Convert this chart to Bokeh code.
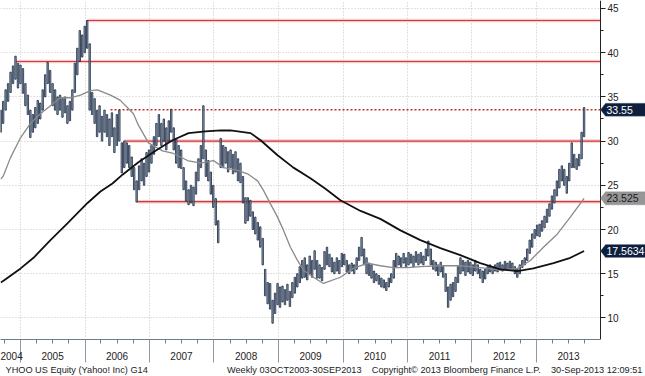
import pandas as pd
from bokeh.plotting import figure
from bokeh.models import (Range1d, FixedTicker, Label, PolyAnnotation, BoxAnnotation,
                          ColumnDataSource, Title)
from bokeh.embed import file_html
from bokeh.resources import INLINE

# ---------------- data ----------------
bar_start = "2004-09-10"   # bi-weekly bars
bar_lows = [
    31.0, 32.0, 33.5, 34.5, 35.5, 36.5, 37.0, 36.0, 36.5, 35.4,
    34.0, 33.0, 30.4, 31.0, 31.5, 32.0, 32.5, 33.5, 35.0, 36.5,
    35.5, 34.0, 33.5, 33.0, 33.5, 32.7, 33.2, 32.0, 32.3, 33.5,
    35.5, 37.5, 39.0, 39.5, 40.0, 40.5, 33.5, 33.0, 32.0, 30.5,
    31.0, 30.0, 31.0, 30.5, 29.5, 30.5, 28.7, 29.5, 30.0, 26.4,
    27.0, 27.5, 27.0, 26.0, 24.5, 23.1, 24.5, 25.5, 25.0, 26.0,
    26.5, 27.5, 28.5, 29.5, 30.5, 29.5, 30.0, 29.0, 30.0, 31.0,
    29.0, 27.5, 27.0, 26.9, 24.5, 23.2, 22.8, 23.0, 22.7, 24.0,
    25.5, 27.0, 28.0, 26.0, 25.5, 24.0, 22.5, 20.5, 18.5, 27.0,
    27.0, 27.5, 26.5, 27.0, 26.3, 26.5, 25.5, 25.3, 23.0, 20.7,
    21.0, 21.5, 20.0, 19.5, 18.8, 18.0, 16.0, 12.5, 11.6, 11.0,
    9.4, 10.5, 11.5, 11.2, 11.8, 11.5, 12.0, 11.3, 12.3, 12.8,
    13.5, 14.0, 14.5, 14.6, 14.3, 15.0, 14.6, 15.5, 14.5, 14.5,
    14.2, 15.5, 16.0, 15.8, 15.2, 15.0, 15.3, 15.0, 15.8, 16.0,
    15.2, 15.0, 15.3, 15.0, 15.5, 16.5, 17.0, 16.0, 15.0, 14.8,
    14.5, 14.0, 14.2, 13.8, 13.5, 13.4, 13.1, 13.5, 14.0, 14.5,
    15.7, 16.0, 15.8, 16.2, 15.7, 16.0, 16.2, 15.8, 16.3, 16.0,
    16.2, 16.0, 16.5, 17.0, 16.0, 15.5, 15.3, 14.8, 15.2, 14.6,
    13.0, 11.2, 12.0, 12.4, 13.0, 14.0, 15.0, 15.3, 14.8, 15.2,
    15.0, 14.8, 15.3, 15.0, 14.5, 14.0, 14.4, 15.0, 15.2, 15.0,
    15.3, 15.2, 15.5, 15.3, 15.5, 15.4, 15.6, 15.4, 15.0, 14.6,
    15.0, 15.7, 16.0, 16.5, 17.3, 18.0, 19.0, 19.3, 19.2, 19.8,
    20.2, 20.8, 21.5, 22.3, 23.0, 23.8, 24.7, 25.5, 25.0, 24.1,
    25.5, 27.0, 27.0, 26.8, 27.2, 28.0, 30.5,
]
bar_highs = [
    33.5, 34.5, 35.8, 36.5, 37.8, 38.5, 39.6, 38.8, 38.6, 38.2,
    36.5, 35.2, 33.5, 33.0, 33.8, 34.6, 34.3, 35.8, 37.5, 38.9,
    38.0, 36.5, 35.8, 35.0, 35.2, 34.8, 35.0, 34.0, 34.5, 35.8,
    38.8, 40.5, 42.5, 42.0, 43.0, 43.64, 41.0, 35.5, 34.8, 33.5,
    34.0, 32.8, 33.5, 33.0, 32.5, 33.2, 31.5, 33.0, 33.5, 29.8,
    30.0, 29.8, 29.5, 28.2, 27.0, 25.5, 27.2, 28.0, 27.5, 28.7,
    29.0, 29.5, 30.5, 32.0, 33.0, 32.0, 32.5, 31.5, 32.3, 33.6,
    31.5, 30.3, 29.5, 29.0, 27.0, 25.5, 24.5, 25.0, 24.8, 26.5,
    28.0, 29.5, 34.0, 29.0, 27.8, 26.5, 25.0, 23.5, 21.0, 30.3,
    29.5, 29.3, 28.8, 29.0, 28.5, 28.8, 28.0, 27.5, 26.0, 23.6,
    23.6, 23.3, 22.0, 21.4, 20.8, 20.3, 19.0, 15.5, 14.0, 13.9,
    12.0, 12.8, 13.9, 13.5, 13.6, 13.2, 13.8, 13.0, 14.0, 14.6,
    15.0, 15.8, 16.5, 16.8, 16.0, 17.0, 16.5, 17.6, 16.5, 16.0,
    15.7, 17.5, 18.0, 17.2, 16.8, 16.3, 16.8, 16.5, 17.3, 17.2,
    16.5, 16.0, 16.2, 16.0, 16.8, 18.0, 19.1, 17.8, 16.8, 16.2,
    16.0, 15.3, 15.0, 14.8, 14.5, 14.3, 14.0, 14.5, 15.0, 16.5,
    17.3, 17.0, 16.8, 17.3, 16.8, 17.4, 17.2, 17.0, 17.5, 17.2,
    17.4, 17.0, 17.8, 18.7, 17.8, 16.5, 16.3, 16.0, 16.3, 15.8,
    15.0, 13.5, 13.8, 14.0, 14.6, 15.8, 16.8, 16.5, 16.3, 16.5,
    16.3, 16.0, 16.5, 16.0, 15.5, 15.3, 15.5, 15.8, 16.0, 15.8,
    16.0, 16.2, 16.3, 16.0, 16.4, 16.2, 16.4, 16.2, 15.8, 15.5,
    16.0, 16.5, 16.8, 17.8, 18.8, 19.5, 20.0, 20.5, 20.6, 21.0,
    21.5, 22.3, 22.9, 23.8, 24.5, 25.5, 26.8, 27.2, 26.8, 26.0,
    27.5, 29.8, 28.5, 28.0, 28.5, 31.0, 33.8,
]

gray_ma_dates = [
    "2004-09-10", "2004-09-26", "2004-11-04", "2005-01-01", "2005-02-26", "2005-04-23",
    "2005-06-19", "2005-08-14", "2005-10-10", "2005-12-06", "2006-02-01", "2006-03-12",
    "2006-05-25", "2006-07-20", "2006-10-02", "2006-10-30", "2006-12-26", "2007-03-15",
    "2007-05-16", "2007-08-04", "2007-10-17", "2007-12-29", "2008-02-24", "2008-05-13",
    "2008-07-09", "2008-09-04", "2008-10-08", "2008-11-16", "2008-12-26", "2009-01-29",
    "2009-03-09", "2009-04-18", "2009-05-22", "2009-07-17", "2009-09-12", "2009-12-17",
    "2010-03-01", "2010-05-19", "2010-07-31", "2010-10-13", "2011-01-01", "2011-03-15",
    "2011-07-06", "2011-10-27", "2012-02-17", "2012-06-10", "2012-09-15", "2012-11-27",
    "2013-02-09", "2013-04-29", "2013-07-11", "2013-09-27",
]
gray_ma_values = [
    25.7, 26.1, 28.1, 30.4, 32.0, 33.1,
    34.0, 34.9, 34.9, 35.2, 35.7, 35.8,
    35.2, 34.6, 33.1, 31.8, 29.8, 28.9,
    28.6, 27.8, 27.5, 27.8, 27.0, 26.7,
    26.3, 25.5, 24.4, 22.9, 21.4, 19.9,
    18.0, 16.5, 15.4, 14.6, 13.9, 14.6,
    15.6, 16.2, 15.9, 15.7, 15.7, 15.8,
    15.9, 15.9, 15.7, 15.4, 15.6, 16.5,
    18.0, 19.5, 21.4, 23.525,
]

black_ma_dates = [
    "2004-09-10", "2004-09-26", "2005-01-01", "2005-03-15", "2005-06-19", "2005-09-23",
    "2006-01-15", "2006-03-29", "2006-06-05", "2006-08-01", "2006-10-30", "2007-02-04",
    "2007-05-11", "2007-08-10", "2007-11-14", "2008-02-07", "2008-04-03", "2008-07-26",
    "2008-09-21", "2008-12-26", "2009-03-26", "2009-06-30", "2009-09-23", "2009-12-17",
    "2010-04-10", "2010-07-31", "2010-11-22", "2011-03-15", "2011-07-06", "2011-10-27",
    "2012-02-17", "2012-06-10", "2012-09-15", "2012-12-14", "2013-04-07", "2013-07-11",
    "2013-09-27",
]
black_ma_values = [
    14.0, 14.2, 15.6, 16.8, 18.8, 20.7,
    23.0, 24.3, 25.2, 26.2, 27.6, 28.9,
    30.1, 30.9, 31.1, 31.2, 31.2, 30.9,
    30.1, 28.4, 27.0, 25.8, 24.6, 23.3,
    22.1, 21.2, 19.9, 18.8, 17.9, 17.1,
    16.2, 15.5, 15.3, 15.6, 16.2, 16.8,
    17.5634,
]

level_values = [43.64, 39.0, 30.0, 23.15]
level_starts = ["2006-01-13", "2004-12-03", "2006-08-12", "2006-10-24"]
dotted_level = 33.55
dotted_start = "2006-05-25"

year_labels = ["2004", "2005", "2006", "2007", "2008", "2009", "2010", "2011", "2012", "2013"]
year_label_dates = ["2004-10-01"] + [f"{y}-07-01" for y in year_labels[1:]]
y_ticks = [10, 15, 20, 25, 30, 35, 40, 45]
y_minor = [12.5, 17.5, 22.5, 27.5, 32.5, 37.5, 42.5]

tag_values = [33.55, 23.525, 17.5634]
tag_texts = ["33.55", "23.525", "17.5634"]
tag_fills = ["#0d1f3d", "#969696", "#0d1f3d"]
tag_text_colors = ["#ffffff", "#1a1a1a", "#ffffff"]

footer_parts = ["YHOO US Equity (Yahoo! Inc) G14",
                "Weekly 03OCT2003-30SEP2013",
                "Copyright\u00a9 2013 Bloomberg Finance L.P.",
                "30-Sep-2013 12:09:51"]

# ---------------- layout constants ----------------
def ms(s):
    return pd.Timestamp(s).value / 1e6

X0, X1 = ms("2004-09-09"), ms("2013-12-29")   # x range of the drawing area (0..600 px)
FW, FH = 600, 339
XE = X0 + (X1 - X0) * 645 / FW                 # frame runs on under the price axis
Y0, Y1 = 7.56, 45.9
FONT = "Liberation Sans"

def sx(px):
    return X0 + (X1 - X0) * px / FW

p = figure(width=645, height=376, x_axis_type="datetime", y_axis_location="right",
           x_range=Range1d(X0, XE), y_range=Range1d(Y0, Y1),
           output_backend="svg", toolbar_location=None,
           min_border_left=0, min_border_top=0, min_border_right=0, min_border_bottom=37)
p.outline_line_color = None
p.background_fill_color = "white"
p.border_fill_color = "white"

# x axis: quarter ticks (short, labelled mid-year), year boundaries (long minor ticks)
q_ticks = [ms("2004-10-01")] + [ms(f"{y}-{m:02d}-01") for y in range(2005, 2014) for m in (4, 7, 10)]
year_ticks = [ms(f"{y}-01-01") for y in range(2005, 2014)]
overrides = {t: "" for t in q_ticks}
for lab, d in zip(year_labels, year_label_dates):
    overrides[ms(d)] = lab

xa = p.xaxis[0]
xa.ticker = FixedTicker(ticks=q_ticks, minor_ticks=year_ticks)
xa.major_label_overrides = overrides
xa.bounds = (X0, X1)
xa.axis_line_color = "#6f7c8a"
xa.major_tick_line_color = "#6f7c8a"
xa.major_tick_out = 4
xa.major_tick_in = 0
xa.minor_tick_line_color = "#8d99a6"
xa.minor_tick_out = 23
xa.minor_tick_in = 0
xa.major_label_standoff = -11
xa.major_label_text_font = FONT
xa.major_label_text_font_size = "10px"
xa.major_label_text_color = "#222222"

p.xgrid.ticker = FixedTicker(ticks=year_ticks)
p.ygrid.ticker = FixedTicker(ticks=y_ticks)
for g in (p.xgrid, p.ygrid):
    g.grid_line_color = "#c4c4c4"
    g.grid_line_dash = "1 2"
    g.grid_line_width = 1

# price axis sits at the end of the drawing area
ya = p.yaxis[0]
ya.fixed_location = X1
ya.ticker = FixedTicker(ticks=y_ticks, minor_ticks=y_minor)
ya.axis_line_color = "#222222"
ya.major_tick_line_color = "#222222"
ya.minor_tick_line_color = "#222222"
ya.major_tick_out = 5
ya.major_tick_in = 0
ya.minor_tick_out = 3
ya.minor_tick_in = 0
ya.major_label_standoff = 2
ya.major_label_text_font = FONT
ya.major_label_text_font_size = "10px"
ya.major_label_text_color = "#222222"

# keep the grid out of the axis strip
p.add_layout(BoxAnnotation(left=X1, right=XE, fill_color="white", fill_alpha=1.0,
                           line_color=None, level="underlay"))

# level lines
lv = ColumnDataSource(dict(x0=[pd.Timestamp(s) for s in level_starts],
                           x1=[X1] * len(level_starts),
                           y=level_values))
p.segment(x0="x0", y0="y", x1="x1", y1="y", source=lv, line_color="#f6cccc", line_width=3.5)
p.segment(x0="x0", y0="y", x1="x1", y1="y", source=lv, line_color="#cf3b3b", line_width=1.2)
p.segment(x0=[pd.Timestamp(dotted_start)], y0=[dotted_level], x1=[X1],
          y1=[dotted_level], line_color="#c0302b", line_width=1.4, line_dash="2 2")

# price bars
dates = pd.date_range(bar_start, periods=len(bar_lows), freq="14D")
bars = ColumnDataSource(dict(x=dates, lo=bar_lows, hi=bar_highs))
p.vbar(x="x", bottom="lo", top="hi", width=8 * 86400000, source=bars,
       fill_color="#9eafc2", line_color="#17253e", line_width=0.8)

# moving averages
p.line([pd.Timestamp(d) for d in gray_ma_dates], gray_ma_values, line_color="#8a8a8a", line_width=1.3)
p.line([pd.Timestamp(d) for d in black_ma_dates], black_ma_values, line_color="#111111", line_width=1.8)

# value tags on the price axis
h = 6.5 * (Y1 - Y0) / FH
for v, t, fc, tc in zip(tag_values, tag_texts, tag_fills, tag_text_colors):
    p.add_layout(PolyAnnotation(xs=[sx(600), sx(605), sx(650), sx(650), sx(605)],
                                ys=[v, v + h, v + h, v - h, v - h],
                                fill_color=fc, fill_alpha=1.0, line_color="#6b7a8c", line_width=1))
    p.add_layout(Label(x=sx(606), y=v, text=t, text_align="left", text_baseline="middle",
                       text_font=FONT, text_font_size="10.5px", text_color=tc))

# footer line
nb = "\u00a0"
footer = footer_parts[0] + nb * 31 + footer_parts[1] + nb * 4 + footer_parts[2] + nb * 4 + footer_parts[3]
p.add_layout(Title(text=footer, align="left", offset=5, standoff=0,
                   text_font=FONT, text_font_size="9.2px", text_font_style="normal",
                   text_color="#222222"), "below")

open("out.html", "w").write(file_html(p, INLINE))
